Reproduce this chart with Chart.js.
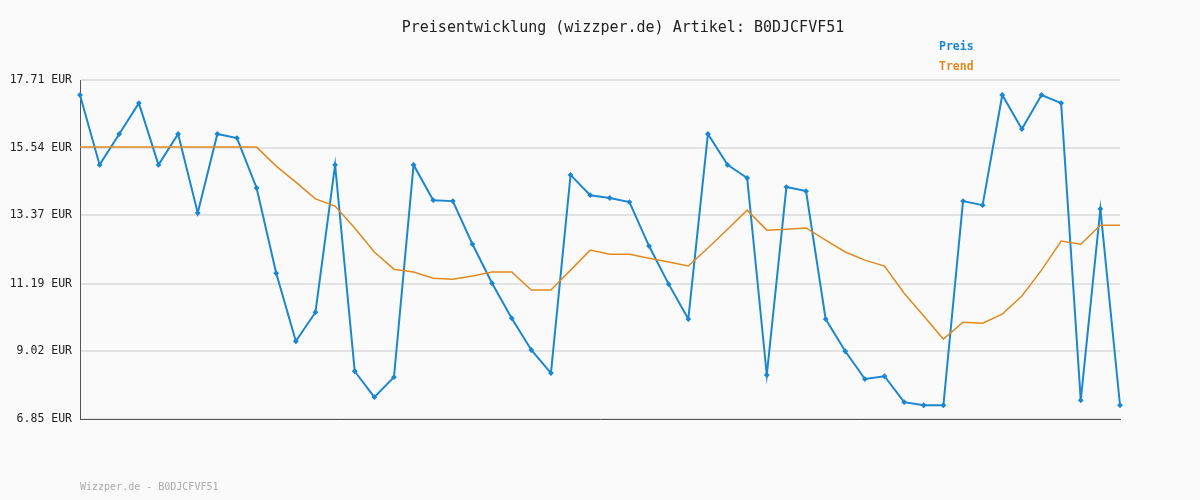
<!DOCTYPE html>
<html><head><meta charset="utf-8">
<script src="https://cdn.jsdelivr.net/npm/chart.js@4"></script>
<style>html,body{margin:0;padding:0;background:#fafafa}#w{width:1200px;height:500px}</style>
</head><body><div id="w"><canvas id="c"></canvas></div>
<script>
const titleText = "Preisentwicklung (wizzper.de) Artikel: B0DJCFVF51";
const footerText = "Wizzper.de - B0DJCFVF51";
const yTicks = [6.85, 9.02, 11.19, 13.37, 15.54, 17.71];
const preis = [17.23,14.99,15.98,16.97,14.99,15.98,13.45,15.98,15.85,14.25,11.52,9.34,10.27,14.99,8.38,7.55,8.19,14.99,13.86,13.83,12.45,11.20,10.08,9.06,8.32,14.67,14.02,13.93,13.80,12.39,11.17,10.05,15.98,14.99,14.57,8.26,14.28,14.15,10.05,9.02,8.13,8.22,7.39,7.29,7.29,13.83,13.70,17.23,16.14,17.23,16.97,7.45,13.58,7.29];
const trend = [15.56,15.56,15.56,15.56,15.56,15.56,15.56,15.56,15.56,15.56,14.95,14.44,13.90,13.67,12.97,12.20,11.65,11.56,11.36,11.33,11.43,11.56,11.56,10.98,10.98,11.62,12.26,12.13,12.13,12.00,11.88,11.75,12.33,12.93,13.54,12.90,12.93,12.97,12.58,12.20,11.94,11.75,10.88,10.15,9.41,9.95,9.92,10.21,10.79,11.62,12.55,12.45,13.06,13.06];
const labels = preis.map((_, i) => i);
const font = "DejaVu Sans Mono";
const deco = {
  id: 'deco',
  afterDraw(ch) {
    const c = ch.ctx; c.save();
    c.font = "15px '" + font + "'"; c.fillStyle = "#222"; c.textAlign = "center"; c.textBaseline = "middle";
    c.fillText(titleText, 623, 28);
    c.font = "bold 11.5px '" + font + "'"; c.textAlign = "left";
    c.fillStyle = "#1a87d0"; c.fillText("Preis", 939, 47);
    c.fillStyle = "#e08a1e"; c.fillText("Trend", 939, 67);
    c.font = "10px '" + font + "'"; c.fillStyle = "#aaa"; c.fillText(footerText, 80, 487);
    c.restore();
  }
};
new Chart(document.getElementById('c'), {
  type: 'line',
  data: { labels, datasets: [
    { data: trend, borderColor: '#e08a1e', borderWidth: 1.5, pointRadius: 0, tension: 0 },
    { data: preis, borderColor: '#1a87d0', backgroundColor: '#1a87d0', borderWidth: 2, pointRadius: 1.5, pointStyle: 'rectRot', tension: 0 }
  ]},
  options: {
    responsive: true, maintainAspectRatio: false, animation: false,
    layout: { padding: { left: 10, right: 80, top: 80, bottom: 81 } },
    plugins: { legend: { display: false }, tooltip: { enabled: false } },
    scales: {
      x: { offset: false, ticks: { display: false }, grid: { display: false }, border: { display: true, color: '#555', width: 1 }, afterFit: s => { s.height = 0; } },
      y: { min: 6.85, max: 17.71,
        afterBuildTicks: s => { s.ticks = yTicks.map(v => ({ value: v })); },
        afterFit: s => { s.width = 70; },
        ticks: { color: '#222', font: { family: font, size: 11.5 }, padding: 8, callback: v => v.toFixed(2) + ' EUR' },
        grid: { color: '#e2e2e2', lineWidth: 2, drawTicks: false },
        border: { display: true, color: '#555', width: 1 } }
    }
  },
  plugins: [deco]
});
</script></body></html>
